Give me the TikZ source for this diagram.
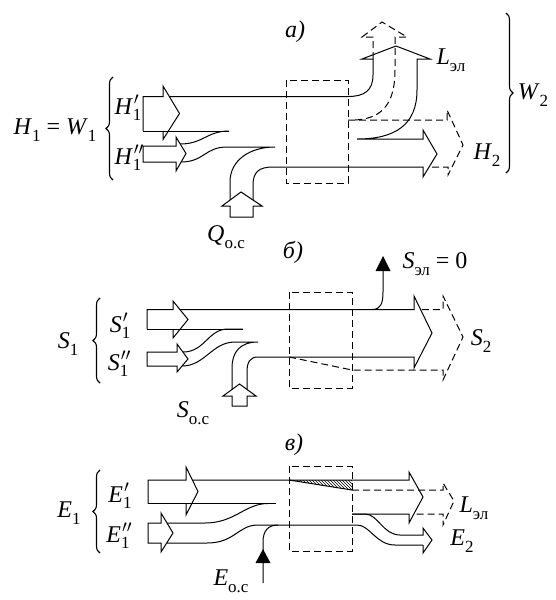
\documentclass[tikz,border=0pt]{standalone}
\usepackage{fontspec}
\setmainfont{Liberation Serif}
\usetikzlibrary{decorations.pathreplacing,patterns}
\newcommand{\Sb}[1]{\raisebox{-0.6ex}{\fontsize{17}{17}\selectfont #1}}
\newcommand{\Prm}[2]{\makebox[0pt][l]{\kern1pt$^{#1}$}\Sb{#2}}
\tikzset{
  ln/.style={line width=1pt},
  dsh/.style={line width=1pt, dash pattern=on 7pt off 4pt},
  lbl/.style={inner sep=0pt, font=\fontsize{24}{28}\selectfont},
  brc/.style={decorate, decoration={brace, amplitude=7pt}, line width=1.1pt},
}
\begin{document}
\begin{tikzpicture}[x=1pt,y=-1pt,line width=1pt,line join=miter]
\useasboundingbox (0,0) rectangle (556,600);
% ================= panel a =================
\draw[dsh] (286,80) rectangle (348,183);
% H1' arrow
\draw[ln] (143,131) -- (143,96.5) -- (163,96.5) -- (163,86) -- (179.5,113.5) -- (163,139.5) -- (163,131);
\draw[ln] (143,131) -- (229,131);
\draw[ln] (169,96.5) -- (348,96.5) .. controls (365,96.5) and (373,90) .. (373,75) -- (373,59);
% L head, right edge, H2 solid
\draw[ln] (373,59) -- (362,59) -- (396,46) -- (430,59) -- (417,59) -- (417,90)
  .. controls (417,125) and (395,139) .. (357,139) -- (423,139) -- (423,130) -- (437,154)
  -- (423,177) -- (423,167) -- (273,167) .. controls (259,167) and (253,172) .. (253,185) -- (253,200);
% H1'' arrow
\draw[ln] (143,146) -- (176,146) -- (176,137) -- (186,153.5) -- (176,171) -- (176,162) -- (143,162) -- cycle;
\draw[ln] (180.2,144) .. controls (203,144) and (207,131) .. (229,131);
\draw[ln] (181,162) .. controls (204,162) and (205,147) .. (227,147) -- (275,147)
  .. controls (250,147) and (230,160) .. (230,182) -- (230,200);
% Q arrow head
\draw[ln] (230,217) -- (230,206) -- (222,206) -- (241,192) -- (262,206) -- (253,206) -- (253,217) -- cycle;
% dashed flows
\draw[dsh] (373,59) -- (373,37) -- (362,37) -- (382,22) -- (407,37) -- (395,37) -- (395,70)
  .. controls (395,100) and (385,120) .. (352,120);
\draw[dsh] (348,120) -- (447,120) -- (447,110) -- (463,145) -- (448,175) -- (448,167) -- (429,167);
% braces
\draw[brc] (113,180) -- (113,77);
\draw[brc] (506,13) -- (506,173);
% labels
\node[lbl] (ta) at (295,32) {\textit{а)}};
\node[lbl] (h1) at (55,130) {\textit{H}\Sb{1} = \textit{W}\Sb{1}};
\node[lbl] (h1p) at (128,108) {\textit{H}\Prm{\prime}{1}};
\node[lbl] (h1pp) at (128,158) {\textit{H}\Prm{\prime\prime}{1}};
\node[lbl] (q) at (226,237) {\textit{Q}\Sb{о.с}};
\node[lbl] (la) at (451,60) {\textit{L}\Sb{эл}};
\node[lbl] (h2) at (487,155) {\textit{H}\Sb{2}};
\node[lbl] (w2) at (533,95) {\textit{W}\Sb{2}};
% ================= panel b =================
\draw[dsh] (289,292) rectangle (352,388);
\draw[ln] (147,329) -- (147,309.5) -- (173,309.5) -- (173,301) -- (188,319.5) -- (173,338) -- (173,329);
\draw[ln] (147,329) -- (243,329);
\draw[ln] (180,309.5) -- (414,309.5) -- (414,296) -- (432,333) -- (414,368) -- (414,357)
  -- (258,357) .. controls (250,357) and (247,362) .. (247,372) -- (247,389.5);
\draw[ln] (372,309.5) .. controls (381,309.5) and (383,303) .. (383,292) -- (383,268);
\fill (383,256) -- (375.5,271) -- (390.5,271) -- cycle;
\draw[ln] (147,352) -- (177,352) -- (177,344) -- (188,359) -- (177,372) -- (177,366) -- (147,366) -- cycle;
\draw[ln] (183,352) .. controls (205,352) and (208,329) .. (228,329) -- (243,329);
\draw[ln] (182,366) .. controls (205,366) and (212,342) .. (235,342) -- (258,342)
  .. controls (240,342) and (232,352) .. (232,368) -- (232,389.5);
\draw[ln] (232,406) -- (232,396) -- (223,396) -- (239.5,384) -- (256,396) -- (247,396) -- (247,406) -- cycle;
\draw[dsh] (289,357) -- (352,370) -- (443,370) -- (443,380) -- (463,337) -- (443,296) -- (443,309.5) -- (421,309.5);
\draw[brc] (100,383) -- (100,298);
\node[lbl] (tb) at (293,252) {\textit{б)}};
\node[lbl] (s1) at (68,344) {\textit{S}\Sb{1}};
\node[lbl] (s1p) at (120,326) {\textit{S}\Prm{\prime}{1}};
\node[lbl] (s1pp) at (118,364) {\textit{S}\Prm{\prime\prime}{1}};
\node[lbl] (soc) at (193,413) {\textit{S}\Sb{о.с}};
\node[lbl] (sel) at (435,264) {\textit{S}\Sb{эл} = 0};
\node[lbl] (s2) at (481,341) {\textit{S}\Sb{2}};
% ================= panel c =================
\draw[dsh] (289,466) rectangle (352,551);
\draw[ln] (148,503.5) -- (148,480) -- (186,480) -- (186,467) -- (198,491.5) -- (186,515) -- (186,503.5);
\draw[ln] (148,503.5) -- (276,503.5);
\fill[pattern=north west lines] (289,480) -- (352,480) -- (352,490) -- cycle;
\draw[ln] (289,480) -- (352,490);
\draw[ln] (192.4,480) -- (409,480) -- (409,472) -- (423,497) -- (409,523) -- (409,514) -- (352,514);
\draw[ln] (148,523) -- (161,523) -- (161,513) -- (173,533) -- (161,552) -- (161,543) -- (148,543) -- cycle;
\draw[ln] (167,523) -- (205,523) .. controls (235,523) and (245,503.5) .. (268,503.5);
\draw[ln] (166.7,543) -- (207,543) .. controls (235,543) and (238,525) .. (258,525) -- (357,525)
  .. controls (370,525) and (376,545) .. (395,545) -- (423,545);
\draw[ln] (352,514) -- (365,514) .. controls (378,514) and (383,535) .. (400,535) -- (423,535)
  -- (423,528) -- (432,540) -- (423,553) -- (423,545);
\draw[ln] (263,583) -- (263,542) .. controls (263,531) and (268,525) .. (278,525);
\fill (263,549) -- (255.5,563) -- (270.5,563) -- cycle;
\draw[dsh] (352,490) -- (443,490) -- (443,483) -- (454,501) -- (443,525) -- (443,514) -- (414,514);
\draw[brc] (100,553) -- (100,470);
\node[lbl] (tc) at (294,445) {\textit{в)}};
\node[lbl] (e1) at (69,513) {\textit{E}\Sb{1}};
\node[lbl] (e1p) at (120,496) {\textit{E}\Prm{\prime}{1}};
\node[lbl] (e1pp) at (118,536) {\textit{E}\Prm{\prime\prime}{1}};
\node[lbl] (eoc) at (231,581) {\textit{E}\Sb{о.с}};
\node[lbl] (lc) at (474,508) {\textit{L}\Sb{эл}};
\node[lbl] (e2) at (462,541) {\textit{E}\Sb{2}};
\end{tikzpicture}
\end{document}
